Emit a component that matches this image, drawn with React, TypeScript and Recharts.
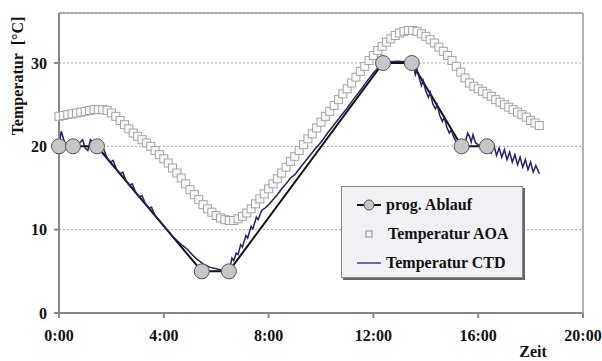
import {
  CartesianGrid,
  Label,
  Line,
  LineChart,
  ReferenceLine,
  XAxis,
  YAxis,
} from "recharts";

// time in minutes since 0:00, temperature in °C
const progAblauf: [number, number][] = [
  [0, 20], [32, 20], [87, 20], [327, 5], [389, 5],
  [742, 30], [808, 30], [922, 20], [980, 20],
];

const temperaturAOA: [number, number][] = [
  [0, 23.6], [10, 23.7], [20, 23.8], [30, 23.9], [40, 24.0], [50, 24.1],
  [60, 24.2], [70, 24.3], [80, 24.4], [90, 24.4], [100, 24.4], [110, 24.3],
  [120, 24.0], [130, 23.6], [140, 23.1], [150, 22.6], [160, 22.1], [170, 21.6],
  [180, 21.2], [190, 20.8], [200, 20.4], [210, 20.0], [220, 19.5], [230, 19.0],
  [240, 18.5], [250, 18.0], [260, 17.4], [270, 16.8], [280, 16.2], [290, 15.5],
  [300, 14.8], [310, 14.2], [320, 13.6], [330, 13.0], [340, 12.5], [350, 12.1],
  [360, 11.7], [370, 11.4], [380, 11.2], [390, 11.1], [400, 11.1], [410, 11.3],
  [420, 11.6], [430, 12.0], [440, 12.5], [450, 13.1], [460, 13.7], [470, 14.3],
  [480, 14.9], [490, 15.5], [500, 16.1], [510, 16.8], [520, 17.5], [530, 18.2],
  [540, 18.8], [550, 19.5], [560, 20.2], [570, 20.9], [580, 21.5], [590, 22.2],
  [600, 22.9], [610, 23.6], [620, 24.2], [630, 24.9], [640, 25.6], [650, 26.3],
  [660, 26.9], [670, 27.6], [680, 28.3], [690, 29.0], [700, 29.6], [710, 30.3],
  [720, 30.9], [730, 31.5], [740, 32.0], [750, 32.5], [760, 32.9], [770, 33.3],
  [780, 33.6], [790, 33.8], [800, 33.9], [810, 33.9], [820, 33.8], [830, 33.5],
  [840, 33.2], [850, 32.8], [860, 32.4], [870, 31.9], [880, 31.4], [890, 30.9],
  [900, 30.3], [910, 29.6], [920, 28.9], [930, 28.2], [940, 27.6], [950, 27.2],
  [960, 26.9], [970, 26.6], [980, 26.3], [990, 26.0], [1000, 25.6], [1010, 25.3],
  [1020, 25.0], [1030, 24.7], [1040, 24.4], [1050, 24.1], [1060, 23.8], [1070, 23.5],
  [1080, 23.1], [1090, 22.8], [1100, 22.5],
];

const temperaturCTD: [number, number][] = [
  [0, 20.0], [5, 21.8], [12, 20.6], [18, 20.1], [30, 20.0], [45, 20.3],
  [54, 20.8], [60, 19.8], [66, 19.5], [72, 20.8], [80, 20.4], [90, 20.0],
  [96, 19.4], [102, 19.7], [110, 18.6], [118, 18.1], [124, 18.3], [132, 17.2],
  [140, 16.7], [146, 16.9], [154, 15.8], [162, 15.3], [168, 15.5], [176, 14.4],
  [184, 13.9], [190, 14.1], [198, 13.1], [206, 12.6], [212, 12.7], [220, 11.7],
  [228, 11.2], [236, 10.7], [244, 10.2], [252, 9.7], [260, 9.2], [270, 8.7],
  [280, 8.2], [288, 7.9], [295, 7.6], [305, 7.0], [315, 6.5], [330, 5.9],
  [345, 5.5], [360, 5.3], [375, 5.1], [387, 5.0], [392, 5.6], [396, 6.6],
  [400, 6.3], [406, 7.2], [410, 7.0], [416, 8.2], [420, 7.9], [428, 9.3],
  [432, 9.0], [440, 10.4], [444, 10.1], [452, 11.5], [456, 11.2], [464, 12.3],
  [472, 12.6], [480, 13.0], [490, 13.6], [500, 14.2], [510, 14.9], [520, 15.5],
  [530, 16.2], [540, 16.6], [555, 17.6], [570, 18.6], [585, 19.6], [600, 20.5],
  [615, 21.6], [630, 22.6], [645, 23.6], [660, 24.6], [675, 25.7], [690, 26.7],
  [705, 27.8], [720, 28.8], [735, 29.7], [745, 30.1], [775, 30.2], [808, 30.1],
  [812, 29.6], [816, 28.6], [820, 29.2], [826, 28.0], [830, 27.3], [834, 27.9],
  [840, 26.6], [846, 25.9], [850, 26.5], [856, 25.1], [862, 24.5], [866, 25.0],
  [872, 23.7], [878, 23.0], [882, 23.5], [888, 22.3], [894, 21.6], [898, 22.0],
  [904, 21.1], [910, 20.5], [916, 20.6], [922, 20.0], [930, 20.4], [936, 21.6],
  [940, 21.2], [944, 20.5], [948, 21.4], [954, 20.4], [960, 20.2], [980, 20.0],
  [990, 19.2], [996, 20.1], [1002, 18.9], [1008, 19.8], [1014, 18.7], [1020, 19.6],
  [1026, 18.4], [1032, 19.3], [1038, 18.1], [1044, 19.0], [1050, 17.8], [1056, 18.7],
  [1062, 17.5], [1068, 18.4], [1074, 17.2], [1080, 18.1], [1086, 16.9], [1092, 17.7],
  [1100, 16.7],
];

const xTicks = [0, 240, 480, 720, 960, 1200];
const yTicks = [0, 10, 20, 30];

const toRows = (pts: [number, number][]) => pts.map(([t, v]) => ({ t, v }));

const FONT = "'Liberation Serif', 'Times New Roman', serif";
const NAVY = "#22226e";

const renderSquare = (props: any) => {
  const { cx, cy, index } = props;
  if (cx == null || cy == null) return <g key={`sq-${index}`} />;
  return (
    <rect
      key={`sq-${index}`}
      x={cx - 4}
      y={cy - 4}
      width={8}
      height={8}
      fill="#f8f8f8"
      stroke="#a4a4a4"
      strokeWidth={1}
    />
  );
};

const renderCircle = (props: any) => {
  const { cx, cy, index } = props;
  if (cx == null || cy == null) return <g key={`c-${index}`} />;
  return (
    <circle
      key={`c-${index}`}
      cx={cx}
      cy={cy}
      r={7.5}
      fill="#c6c6c6"
      stroke="#555"
      strokeWidth={1}
    />
  );
};

const LegendBox = () => {
  const row: React.CSSProperties = {
    display: "flex",
    alignItems: "center",
    height: 29,
  };
  const text: React.CSSProperties = {
    fontFamily: FONT,
    fontWeight: "bold",
    fontSize: 16,
    color: "#111",
    marginLeft: 4,
    whiteSpace: "nowrap",
  };
  return (
    <div
      style={{
        position: "absolute",
        left: 341,
        top: 186,
        width: 182,
        height: 92,
        boxSizing: "border-box",
        border: "1px solid #888",
        background: "#f1f1f5",
        boxShadow: "2px 2px 0 #666",
        padding: "3px 0 0 14px",
      }}
    >
      <div style={row}>
        <svg width={26} height={16}>
          <line x1={1} y1={8} x2={25} y2={8} stroke="#111" strokeWidth={2} />
          <circle cx={13} cy={8} r={5} fill="#c6c6c6" stroke="#555" />
        </svg>
        <span style={text}>prog. Ablauf</span>
      </div>
      <div style={row}>
        <svg width={26} height={16}>
          <rect x={10} y={5} width={6} height={6} fill="#f6f6f6" stroke="#888" />
        </svg>
        <span style={{ ...text, marginLeft: 6 }}>Temperatur AOA</span>
      </div>
      <div style={row}>
        <svg width={26} height={16}>
          <line x1={1} y1={8} x2={25} y2={8} stroke="#6a6aa8" strokeWidth={2} />
        </svg>
        <span style={text}>Temperatur CTD</span>
      </div>
    </div>
  );
};

const App: React.FC = () => {
  const tickStyle = { fontFamily: FONT, fontWeight: "bold", fontSize: 16, fill: "#111" };
  return (
    <div style={{ position: "absolute", left: 0, top: 0, width: 602, height: 361, background: "#fff" }}>
      <LineChart
        width={602}
        height={361}
        margin={{ top: 13, right: 19, bottom: 18, left: 9 }}
      >
        <CartesianGrid
          vertical={false}
          stroke="#aaa"
          strokeDasharray="2 2"
        />
        <XAxis
          type="number"
          dataKey="t"
          domain={[0, 1200]}
          ticks={xTicks}
          tickFormatter={(m: number) => `${m / 60}:00`}
          allowDuplicatedCategory={false}
          height={30}
          stroke="#888"
          strokeWidth={2}
          tickSize={5}
          tickMargin={12}
          tick={tickStyle}
        >
          <Label
            content={() => (
              <text x={533} y={357} textAnchor="middle" style={tickStyle as any}>
                Zeit
              </text>
            )}
          />
        </XAxis>
        <YAxis
          type="number"
          domain={[0, 36]}
          ticks={yTicks}
          width={50}
          stroke="#888"
          strokeWidth={2}
          tickSize={5}
          tickMargin={7}
          tick={tickStyle}
        >
          <Label
            content={() => (
              <text
                x={19}
                y={76}
                textAnchor="middle"
                dominantBaseline="middle"
                transform="rotate(-90, 19, 76)"
                style={tickStyle as any}
              >
                {"Temperatur\u00a0\u00a0[°C]"}
              </text>
            )}
          />
        </YAxis>
        <ReferenceLine y={36} stroke="#999" strokeWidth={1.5} />
        <ReferenceLine x={1200} stroke="#999" strokeWidth={1.5} />
        <Line
          data={toRows(temperaturAOA)}
          dataKey="v"
          name="Temperatur AOA"
          stroke="none"
          dot={renderSquare}
          activeDot={false}
          isAnimationActive={false}
        />
        <Line
          data={toRows(progAblauf)}
          dataKey="v"
          name="prog. Ablauf"
          type="linear"
          stroke="#111"
          strokeWidth={2}
          dot={false}
          activeDot={false}
          isAnimationActive={false}
        />
        <Line
          data={toRows(temperaturCTD)}
          dataKey="v"
          name="Temperatur CTD"
          type="linear"
          stroke={NAVY}
          strokeWidth={1.5}
          dot={false}
          activeDot={false}
          isAnimationActive={false}
        />
        <Line
          data={toRows(progAblauf)}
          dataKey="v"
          name="prog. Ablauf"
          stroke="none"
          dot={renderCircle}
          activeDot={false}
          isAnimationActive={false}
        />
      </LineChart>
      <LegendBox />
    </div>
  );
};

export default App;
